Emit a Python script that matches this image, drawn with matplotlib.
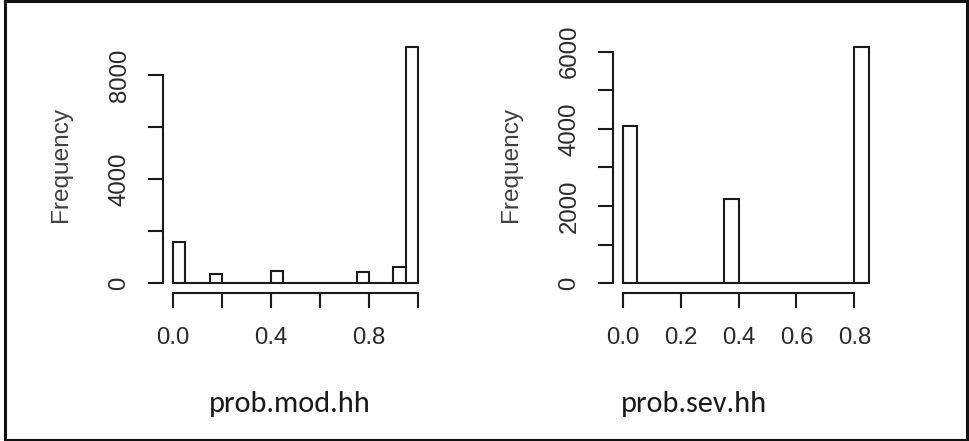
import numpy as np
import matplotlib
matplotlib.use("Agg")
import matplotlib.pyplot as plt
from matplotlib.patches import Rectangle
from matplotlib import font_manager as fm

# ---- data ----
mod_bin_edges = np.linspace(0.0, 1.0, 21)          # 20 bins, width 0.05
mod_counts = [1575, 0, 0, 357, 0, 0, 0, 0, 484, 0,
              0, 0, 0, 0, 0, 422, 0, 0, 614, 9063]
mod_xticks = [0.0, 0.2, 0.4, 0.6, 0.8, 1.0]
mod_xticklabels = ["0.0", "", "0.4", "", "0.8", ""]
mod_yticks = [0, 2000, 4000, 6000, 8000]
mod_yticklabels = ["0", "", "4000", "", "8000"]
mod_label = "prob.mod.hh"

sev_bin_edges = np.linspace(0.0, 0.85, 18)         # 17 bins, width 0.05
sev_counts = [4085, 0, 0, 0, 0, 0, 0, 2184, 0, 0,
              0, 0, 0, 0, 0, 0, 6114]
sev_xticks = [0.0, 0.2, 0.4, 0.6, 0.8]
sev_xticklabels = ["0.0", "0.2", "0.4", "0.6", "0.8"]
sev_yticks = [0, 1000, 2000, 3000, 4000, 5000, 6000]
sev_yticklabels = ["0", "", "2000", "", "4000", "", "6000"]
sev_label = "prob.sev.hh"

ylab = "Frequency"

plt.rcParams["font.family"] = ["Liberation Sans", "DejaVu Sans"]

_avail = set(f.name for f in fm.fontManager.ttflist)
LABEL_FONT = next((f for f in ["Carlito", "Open Sans"] if f in _avail), "DejaVu Sans")
LABEL_SIZE = 21.8 if LABEL_FONT == "Carlito" else 19.0

W, H = 969, 441
DPI = 100
fig = plt.figure(figsize=(W / DPI, H / DPI), dpi=DPI)

TEXT_COLOR = "#2a2a2a"
LINE_COLOR = "#1a1a1a"
LW = 1.5


def px_axes(left, top, right, bottom):
    return fig.add_axes([left / W, 1 - bottom / H, (right - left) / W, (bottom - top) / H])


def draw_hist(ax, edges, counts, xticks, xtl, yticks, ytl):
    edges = np.asarray(edges)
    counts = np.asarray(counts)
    ax.bar(edges[:-1], counts, width=np.diff(edges), align="edge",
           facecolor="white", edgecolor=LINE_COLOR, linewidth=LW)
    # R-style 4% axis expansion
    xr = edges[-1] - edges[0]
    ax.set_xlim(edges[0] - 0.04 * xr, edges[-1] + 0.04 * xr)
    ymax = counts.max()
    ax.set_ylim(-0.04 * ymax, 1.04 * ymax)
    for s in ["top", "right"]:
        ax.spines[s].set_visible(False)
    for s in ["left", "bottom"]:
        ax.spines[s].set_linewidth(LW)
        ax.spines[s].set_color(LINE_COLOR)
    ax.spines["left"].set_bounds(yticks[0], yticks[-1])
    ax.spines["bottom"].set_bounds(xticks[0], xticks[-1])
    ax.set_xticks(xticks)
    ax.set_xticklabels(xtl, fontsize=17.3, color=TEXT_COLOR)
    ax.set_yticks(yticks)
    ax.set_yticklabels(ytl, rotation=90, va="center", fontsize=17.3, color=TEXT_COLOR)
    ax.tick_params(axis="both", length=10.5, width=LW, color=LINE_COLOR)
    ax.tick_params(axis="x", pad=14)
    ax.tick_params(axis="y", pad=13)
    ax.set_facecolor("none")


ax1 = px_axes(163.2, 37.9, 427.8, 292.7)
draw_hist(ax1, mod_bin_edges, mod_counts, mod_xticks, mod_xticklabels,
          mod_yticks, mod_yticklabels)
ax2 = px_axes(612.9, 37.9, 878.6, 292.7)
draw_hist(ax2, sev_bin_edges, sev_counts, sev_xticks, sev_xticklabels,
          sev_yticks, sev_yticklabels)

# y-axis titles
fig.text(61 / W, 1 - 164.5 / H, ylab, rotation=90, ha="center", va="center",
         fontsize=17.6, color="#404040")
fig.text(511.5 / W, 1 - 164.5 / H, ylab, rotation=90, ha="center", va="center",
         fontsize=17.6, color="#404040")

# x-axis titles
fig.text(289.5 / W, 1 - 411.7 / H, mod_label, ha="center", va="baseline",
         fontsize=LABEL_SIZE, family=LABEL_FONT, color="#1a1a1a")
fig.text(693.7 / W, 1 - 411.7 / H, sev_label, ha="center", va="baseline",
         fontsize=LABEL_SIZE, family=LABEL_FONT, color="#1a1a1a")

# outer frame
fig.patches.append(Rectangle((4.5, 1.5), 962.5, 438.5, transform=None,
                             fill=False, edgecolor="#111111", linewidth=2.2))

fig.savefig("out.png", dpi=DPI)
